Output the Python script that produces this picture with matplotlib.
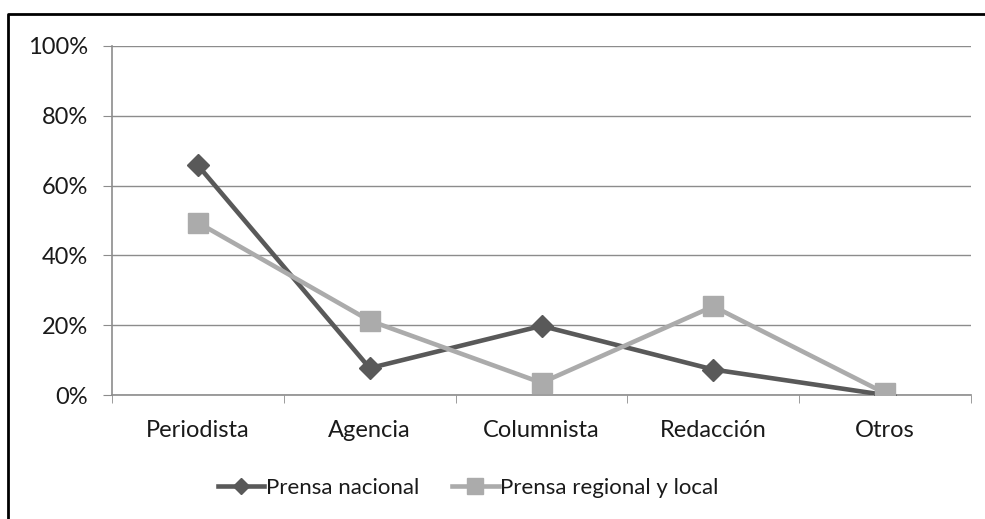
import matplotlib.pyplot as plt
from matplotlib.lines import Line2D
from matplotlib.ticker import PercentFormatter

plt.rcParams['font.family'] = ['Lato', 'DejaVu Sans']

categorias = ['Periodista', 'Agencia', 'Columnista', 'Redacción', 'Otros']
prensa_nacional = [65.8, 7.7, 19.8, 7.3, 0.0]
prensa_regional = [49.4, 21.3, 3.5, 25.4, 0.5]
ticks_y = [0, 20, 40, 60, 80, 100]

oscuro = '#595959'
claro = '#ababab'
gris_eje = '#8c8c8c'

fig = plt.figure(figsize=(9.85, 5.19), dpi=100)
ax = fig.add_axes([112 / 985, 1 - 395 / 519, 859 / 985, 349 / 519])

x = range(len(categorias))
ax.plot(x, prensa_nacional, color=oscuro, lw=3.3, marker='D', ms=11,
        label='Prensa nacional', zorder=3)
ax.plot(x, prensa_regional, color=claro, lw=3.3, marker='s', ms=14,
        label='Prensa regional y local', zorder=4)

ax.set_xlim(-0.5, len(categorias) - 0.5)
ax.set_ylim(0, 100)
ax.set_yticks(ticks_y)
ax.yaxis.set_major_formatter(PercentFormatter(decimals=0))
ax.set_xticks(list(x))
ax.set_xticklabels(categorias)
ax.set_xticks([i - 0.5 for i in range(len(categorias) + 1)], minor=True)
ax.tick_params(axis='x', which='major', length=0, pad=18, labelsize=17)
ax.tick_params(axis='x', which='minor', length=6, color=gris_eje, direction='out')
ax.tick_params(axis='y', length=6.5, color=gris_eje, labelsize=17, pad=11)
for lbl in ax.get_xticklabels() + ax.get_yticklabels():
    lbl.set_color('#1a1a1a')

ax.grid(axis='y', color=gris_eje, lw=1)
ax.set_axisbelow(True)
for lado in ['top', 'right']:
    ax.spines[lado].set_visible(False)
for lado in ['left', 'bottom']:
    ax.spines[lado].set_color(gris_eje)
    ax.spines[lado].set_linewidth(1.2)

manejadores = [
    Line2D([], [], color=oscuro, lw=3.3, marker='D', ms=8),
    Line2D([], [], color=claro, lw=3.3, marker='s', ms=11),
]
fig.legend(manejadores, ['Prensa nacional', 'Prensa regional y local'],
           loc='center', bbox_to_anchor=(468 / 985, 1 - 488 / 519), ncol=2,
           frameon=False, fontsize=16, handlelength=2.1, handletextpad=0.05,
           columnspacing=1.5, labelcolor='#1a1a1a')

# marco del gráfico
fig.add_artist(Line2D([8 / 985, 8 / 985, 1], [0, 1 - 14 / 519, 1 - 14 / 519],
                      transform=fig.transFigure, color='black', lw=2))

fig.savefig('out.png', dpi=100)
